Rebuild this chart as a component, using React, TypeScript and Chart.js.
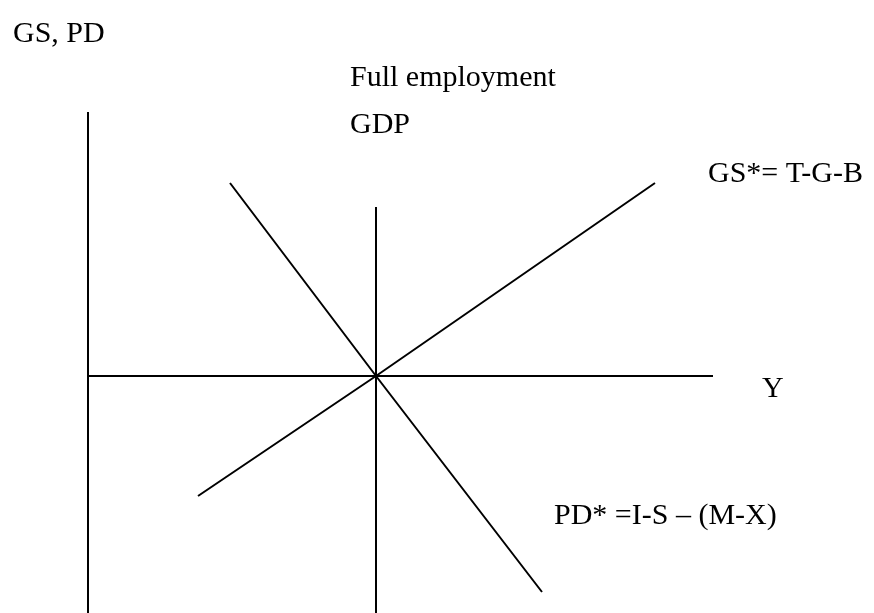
import React, { useEffect, useRef } from "react";
import { Chart, registerables } from "chart.js";

Chart.register(...registerables);

// Diagram data (abstract units; origin = full-employment GDP intersection)
const yAxisX = [-2.88, -2.88];
const yAxisY = [-2.37, 2.64];
const xAxisX = [-2.88, 3.37];
const xAxisY = [0, 0];
const fullEmpX = [0, 0];
const fullEmpY = [-2.37, 1.69];
const gsX = [-1.78, 0, 2.79];
const gsY = [-1.2, 0, 1.93];
const pdX = [-1.46, 0, 1.66];
const pdY = [1.93, 0, -2.16];

const labelTexts = ["GS, PD", "Full employment", "GDP", "GS*= T-G-B", "Y", "PD* =I-S \u2013 (M-X)"];
const labelX = [-3.63, -0.26, -0.26, 3.32, 3.86, 1.78];
const labelY = [3.34, 2.9, 2.43, 1.94, -0.21, -1.48];

const toPts = (xs: number[], ys: number[]) => xs.map((x, i) => ({ x, y: ys[i] }));

const lineDs = (label: string, xs: number[], ys: number[]) => ({
  label,
  data: toPts(xs, ys),
  borderColor: "#000",
  borderWidth: 2,
  pointRadius: 0,
  showLine: true,
  fill: false,
  tension: 0,
  borderCapStyle: "butt" as const,
});

const labelPlugin = {
  id: "diagramLabels",
  afterDatasetsDraw(chart: any) {
    const { ctx, scales } = chart;
    ctx.save();
    ctx.fillStyle = "#000";
    ctx.font = '30px "Liberation Serif", "Times New Roman", serif';
    ctx.textAlign = "left";
    ctx.textBaseline = "alphabetic";
    labelTexts.forEach((t, i) => {
      ctx.fillText(t, scales.x.getPixelForValue(labelX[i]), scales.y.getPixelForValue(labelY[i]));
    });
    ctx.restore();
  },
};

export default function App() {
  const ref = useRef<HTMLCanvasElement | null>(null);
  useEffect(() => {
    if (!ref.current) return;
    const chart = new Chart(ref.current, {
      type: "scatter",
      data: {
        datasets: [
          lineDs("Y axis", yAxisX, yAxisY),
          lineDs("X axis", xAxisX, xAxisY),
          lineDs("Full employment GDP", fullEmpX, fullEmpY),
          lineDs("GS*", gsX, gsY),
          lineDs("PD*", pdX, pdY),
        ],
      },
      options: {
        responsive: false,
        maintainAspectRatio: false,
        animation: false,
        layout: { padding: 0 },
        plugins: { legend: { display: false }, tooltip: { enabled: false }, title: { display: false } },
        scales: {
          x: { type: "linear", min: -3.76, max: 4.98, display: false },
          y: { type: "linear", min: -2.37, max: 3.76, display: false },
        },
        elements: { line: { borderJoinStyle: "miter" } },
      },
      plugins: [labelPlugin],
    });
    return () => chart.destroy();
  }, []);
  return (
    <div style={{ position: "absolute", left: 0, top: 0, width: 874, height: 613, background: "#fff" }}>
      <canvas ref={ref} width={874} height={613} style={{ display: "block", width: 874, height: 613 }} />
    </div>
  );
}
